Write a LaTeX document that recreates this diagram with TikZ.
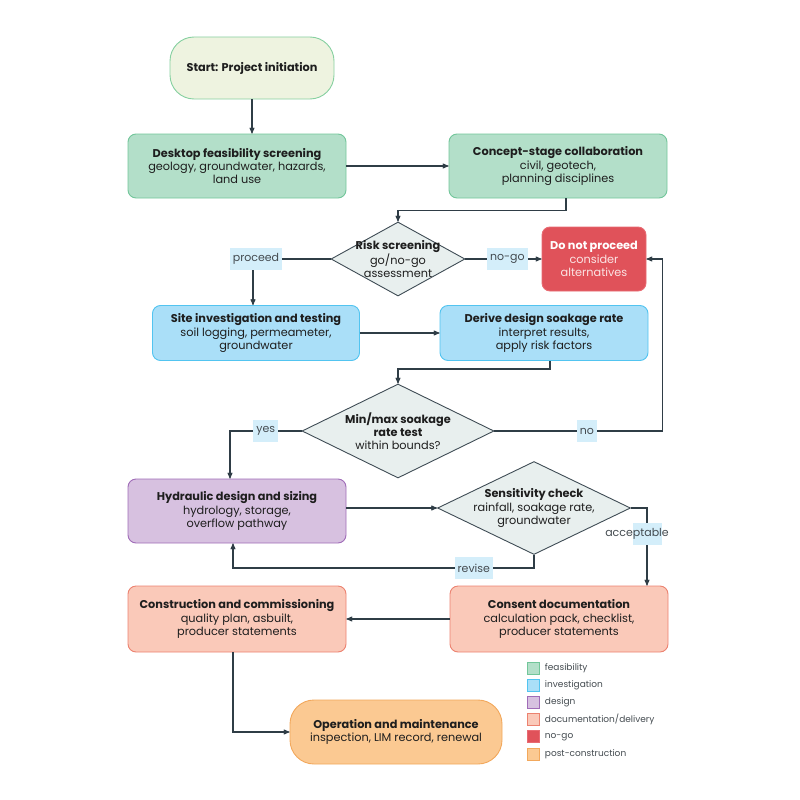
\documentclass[tikz,border=0pt]{standalone}
\usepackage{fontspec}
\setmainfont{Poppins}
\usetikzlibrary{arrows,positioning,shapes.geometric,shapes.misc}

\definecolor{startfill}{HTML}{EEF3E0}
\definecolor{startline}{HTML}{86D0A0}
\definecolor{feasfill}{HTML}{B3DFC9}
\definecolor{feasline}{HTML}{72C69A}
\definecolor{invfill}{HTML}{AADFF8}
\definecolor{invline}{HTML}{52C4F0}
\definecolor{desfill}{HTML}{D7C1E0}
\definecolor{desline}{HTML}{A06CB8}
\definecolor{docfill}{HTML}{FAC9B9}
\definecolor{docline}{HTML}{EC8270}
\definecolor{nogofill}{HTML}{E0525A}
\definecolor{nogoline}{HTML}{E86A72}
\definecolor{postfill}{HTML}{FBC992}
\definecolor{postline}{HTML}{F2A85C}
\definecolor{decfill}{HTML}{E8EFEE}
\definecolor{decline}{HTML}{3F4C55}
\definecolor{linegray}{HTML}{2F3D46}
\definecolor{lblblue}{HTML}{D4EEFA}
\definecolor{lbltext}{HTML}{444B50}
\definecolor{textdark}{HTML}{1E1E1E}
\definecolor{nogotext}{HTML}{FBE4E4}

\begin{document}
\begin{tikzpicture}[
		x=1pt, y=-1pt,
		font=\fontsize{11.3}{13.3}\selectfont,
		post/.style={->,>=stealth',line width=1.1pt,draw=linegray},
		stage/.style={rectangle,rounded corners=8,draw,line width=0.9pt,align=center,
			minimum width=218,minimum height=64,text=textdark},
		pill/.style={stage,rounded corners=24},
		decision/.style={diamond,draw=decline,fill=decfill,line width=0.9pt,inner sep=0pt},
		dtext/.style={align=center,text=textdark},
		lbl/.style={fill=lblblue,text=lbltext,inner xsep=3pt,inner ysep=0pt,minimum height=22,
			font=\fontsize{11}{13}\selectfont},
		swatch/.style={rectangle,line width=0.8pt,minimum size=12,inner sep=0pt},
		keytext/.style={text=lbltext,font=\fontsize{9}{11}\selectfont}]

	\useasboundingbox (0,0) rectangle (800,800);

	% stages
	\node[pill,fill=startfill,draw=startline,minimum width=164,minimum height=62]  (start) at (252,68) {\bfseries Start: Project initiation};
	\node[stage,fill=feasfill,draw=feasline]  (desk) at (237,166) {{\bfseries Desktop feasibility screening}\\geology, groundwater, hazards,\\land use};
	\node[stage,fill=feasfill,draw=feasline]  (concept) at (558,166) {{\bfseries Concept-stage collaboration}\\civil, geotech,\\planning disciplines};
	\node[decision,minimum width=134,minimum height=74,
		label={[dtext]center:{\bfseries Risk screening}\\go/no-go\\assessment}]  (risk) at (398,259) {};
	\node[stage,fill=nogofill,draw=nogoline,minimum width=104,text=nogotext]  (nogo) at (594,259) {{\bfseries\color{white}Do not proceed}\\consider\\alternatives};
	\node[stage,fill=invfill,draw=invline,minimum width=207,minimum height=55]  (site) at (256,333) {{\bfseries Site investigation and testing}\\soil logging, permeameter,\\groundwater};
	\node[stage,fill=invfill,draw=invline,minimum width=208,minimum height=55]  (derive) at (544,333) {{\bfseries Derive design soakage rate}\\interpret results,\\apply risk factors};
	\node[decision,minimum width=192,minimum height=94,
		label={[dtext]center:{\bfseries Min/max soakage}\\{\bfseries rate test}\\within bounds?}]  (bounds) at (398,431) {};
	\node[stage,fill=desfill,draw=desline]  (hydro) at (237,511) {{\bfseries Hydraulic design and sizing}\\hydrology, storage,\\overflow pathway};
	\node[decision,minimum width=193,minimum height=93,
		label={[dtext]center:{\bfseries Sensitivity check}\\rainfall, soakage rate,\\groundwater}]  (sens) at (534,508) {};
	\node[stage,fill=docfill,draw=docline,minimum height=66]  (consent) at (559,619) {{\bfseries Consent documentation}\\calculation pack, checklist,\\producer statements};
	\node[stage,fill=docfill,draw=docline,minimum height=66]  (build) at (237,619) {{\bfseries Construction and commissioning}\\quality plan, asbuilt,\\producer statements};
	\node[pill,fill=postfill,draw=postline,minimum width=212]  (operate) at (396,732) {{\bfseries Operation and maintenance}\\inspection, LIM record, renewal};

	% connectors
	\draw[post] (start.south) -- (start.south |- desk.north);
	\draw[post] (desk) -- (concept);
	\draw[post] ([xshift=8]concept.south) -- ++(0,12) -| (risk.north);
	\draw[post] (risk.east) -- node[lbl,pos=0.55] {no-go} (nogo.west);
	\draw[post] (risk.west) -| node[lbl,pos=0.5,xshift=3] {proceed} ([xshift=-3]site.north);
	\draw[post] (site) -- (derive);
	\draw[post] ([xshift=6]derive.south) -- ++(0,8) -| (bounds.north);
	\draw[post] (bounds.west) -| node[lbl,pos=0.25] {yes} ([xshift=-7]hydro.north);
	\draw[post] (bounds.east) -- node[lbl,pos=0.55] {no} ++(168,0) |- (nogo.east);
	\draw[post] (hydro.east |- sens.west) -- (sens.west);
	\draw[post] (sens.east) -| node[lbl,pos=0.665,minimum width=29,
		label={[text=lbltext,font=\fontsize{11}{13}\selectfont,xshift=-10]center:acceptable}] {} ([xshift=88]consent.north);
	\draw[post] (sens.south) -- ++(0,13) -| node[lbl,pos=0.1] {revise} ([xshift=-4]hydro.south);
	\draw[post] (consent.west) -- (build.east);
	\draw[post] ([xshift=-4]build.south) |- (operate.west);

	% legend
	\foreach \f/\d/\t [count=\i] in {feasfill/feasline/feasibility, invfill/invline/investigation,
		desfill/desline/design, docfill/docline/documentation\slash delivery,
		nogofill/nogoline/no-go, postfill/postline/post-construction} {
		\node[swatch,fill=\f,draw=\d] (key\i) at (533,{650.8+17.2*\i}) {};
		\node[keytext,right=2pt of key\i] (keylbl\i) {\t};
	}
\end{tikzpicture}
\end{document}
